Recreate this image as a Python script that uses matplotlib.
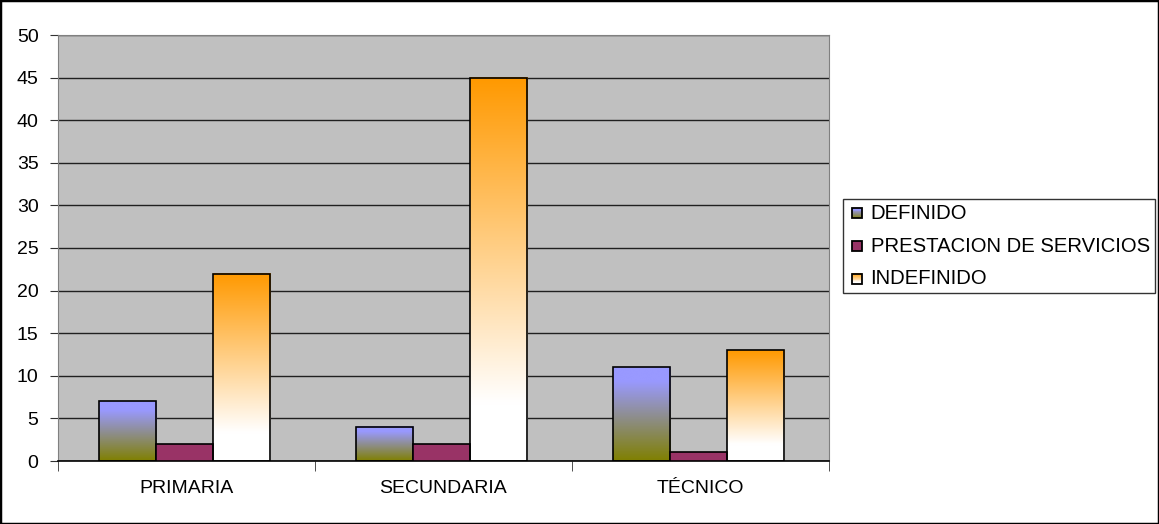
import numpy as np
import matplotlib
matplotlib.use("Agg")
import matplotlib.pyplot as plt
from matplotlib.colors import LinearSegmentedColormap
from matplotlib.patches import Rectangle
from matplotlib.legend_handler import HandlerBase

plt.rcParams['font.family'] = ['Liberation Sans', 'DejaVu Sans']

categorias = ['PRIMARIA', 'SECUNDARIA', 'TÉCNICO']
series = ['DEFINIDO', 'PRESTACION DE SERVICIOS', 'INDEFINIDO']
definido = [7, 4, 11]
prestacion = [2, 2, 1]
indefinido = [22, 45, 13]

# gradients run bottom -> top
grad_def = LinearSegmentedColormap.from_list('d', [(0, '#808000'), (0.85, '#9999ff'), (1, '#9999ff')])
grad_ind = LinearSegmentedColormap.from_list('i', [(0, '#ffffff'), (0.15, '#ffffff'), (1, '#ff9900')])
solid_pre = '#993366'


def gradient_fill(ax, bar, cmap):
    x, y = bar.get_x(), bar.get_y()
    w, h = bar.get_width(), bar.get_height()
    g = np.linspace(0, 1, 256).reshape(-1, 1)
    ax.imshow(g, cmap=cmap, origin='lower', aspect='auto',
              extent=(x, x + w, y, y + h), zorder=2, interpolation='bicubic')


class GradHandler(HandlerBase):
    def __init__(self, cmap=None, color=None):
        super().__init__()
        self.cmap = cmap
        self.color = color

    def create_artists(self, legend, orig_handle, xdescent, ydescent,
                       width, height, fontsize, trans):
        s = height * 0.72
        x0 = xdescent + width - s
        y0 = -ydescent + (height - s) / 2 - 1
        arts = []
        n = 12
        for i in range(n):
            c = self.color if self.cmap is None else self.cmap((i + 0.5) / n)
            arts.append(Rectangle((x0, y0 + s * i / n), s, s / n + 0.2,
                                  facecolor=c, edgecolor='none', transform=trans))
        arts.append(Rectangle((x0, y0), s, s, facecolor='none',
                              edgecolor='black', lw=1.3, transform=trans))
        return arts


fig = plt.figure(figsize=(11.59, 5.24), dpi=100)
ax = fig.add_axes([58 / 1159, 63 / 524, 771 / 1159, 426 / 524])
ax.set_facecolor('#c0c0c0')

x = np.arange(len(categorias)) - 0.008
w = 0.222
b1 = ax.bar(x - w, definido, w, facecolor='none', edgecolor='black', lw=1.2, zorder=3)
b2 = ax.bar(x, prestacion, w, color=solid_pre, edgecolor='black', lw=1.2, zorder=3)
b3 = ax.bar(x + w, indefinido, w, facecolor='none', edgecolor='black', lw=1.2, zorder=3)
for b in b1:
    gradient_fill(ax, b, grad_def)
for b in b3:
    gradient_fill(ax, b, grad_ind)

ax.set_xlim(-0.5, 2.5)
ax.set_ylim(0, 50)
ax.set_yticks(range(0, 51, 5))
ax.set_xticks(np.arange(len(categorias)))
ax.set_xticklabels(categorias)
ax.set_xticks([-0.5, 0.5, 1.5, 2.5], minor=True)
ax.tick_params(axis='x', which='major', length=0, pad=14, labelsize=14)
ax.tick_params(axis='x', which='minor', length=7, color='#333333')
ax.tick_params(axis='y', length=6, labelsize=14, pad=8, color='#333333')
ax.yaxis.grid(True, color='#202020', lw=1)
ax.set_axisbelow(True)
for side in ['left', 'top', 'right']:
    ax.spines[side].set_color('#808080')
ax.spines['bottom'].set_color('black')
ax.spines['bottom'].set_linewidth(1.2)

leg = fig.legend([b1, b2, b3], series, loc='upper left',
                 bbox_to_anchor=(843 / 1159, 325 / 524),
                 handler_map={b1: GradHandler(cmap=grad_def),
                              b2: GradHandler(color=solid_pre),
                              b3: GradHandler(cmap=grad_ind)},
                 fontsize=14.6, frameon=True, fancybox=False, edgecolor='black',
                 handlelength=0.7, handletextpad=0.42, labelspacing=0.68,
                 borderpad=0.24, borderaxespad=0)
leg.get_frame().set_linewidth(1)

fig.patches.append(Rectangle((0, 0), 1, 1, transform=fig.transFigure,
                             fill=False, edgecolor='black', lw=2.5))

fig.savefig('out.png', dpi=100)
